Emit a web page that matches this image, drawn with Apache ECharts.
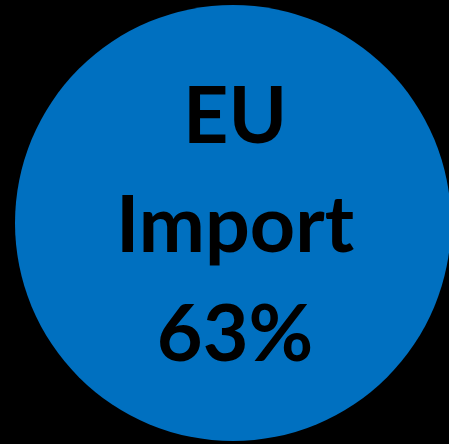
<!DOCTYPE html>
<html>
<head>
<meta charset="utf-8">
<script src="https://cdn.jsdelivr.net/npm/echarts@6/dist/echarts.min.js"></script>
<style>
html,body{margin:0;padding:0;background:#000;}
#c{width:449px;height:444px;}
</style>
</head>
<body>
<div id="c"></div>
<script>
var categories = ['EU Import'];
var values = [63];

var chart = echarts.init(document.getElementById('c'));
chart.setOption({
  backgroundColor: '#000000',
  animation: false,
  series: [{
    type: 'pie',
    silent: true,
    center: [233, 223],
    radius: [0, 218],
    startAngle: 90,
    itemStyle: { color: '#0070C0', borderWidth: 0 },
    label: {
      show: true,
      position: 'center',
      offset: [2, 4],
      color: '#000000',
      fontFamily: 'Lato',
      fontWeight: 'bold',
      fontSize: 79,
      lineHeight: 109,
      formatter: function (p) {
        return p.name.split(' ').join('\n') + '\n' + p.value + '%';
      }
    },
    labelLine: { show: false },
    emphasis: { disabled: true },
    data: categories.map(function (n, i) { return { name: n, value: values[i] }; })
  }]
});
</script>
</body>
</html>
